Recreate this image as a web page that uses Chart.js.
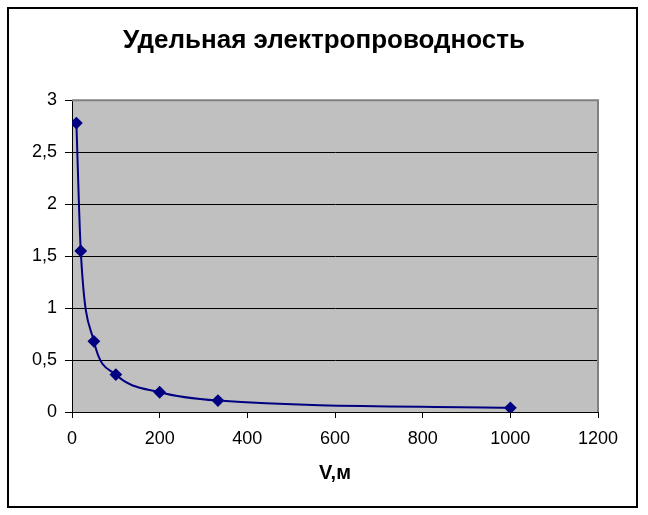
<!DOCTYPE html>
<html>
<head>
<meta charset="utf-8">
<script src="https://cdn.jsdelivr.net/npm/chart.js@4"></script>
<style>
  body { margin: 0; background: #fff; }
  canvas { display: block; }
</style>
</head>
<body>
<canvas id="chart" width="648" height="515"></canvas>
<script>
const chartTitle = 'Удельная электропроводность';
const xAxisTitle = 'V,м';
const xValues = [10, 20, 50, 100, 200, 333, 1000];
const yValues = [2.78, 1.55, 0.68, 0.36, 0.19, 0.11, 0.04];

const points = xValues.map((x, i) => ({ x: x, y: yValues[i] }));

// grey plot area, outer frame and grey top/right edge like Excel
const frame = {
    id: 'frame',
    beforeDraw(chart) {
        const { ctx, chartArea: a } = chart;
        ctx.save();
        ctx.fillStyle = '#c0c0c0';
        ctx.fillRect(a.left, a.top, a.right - a.left, a.bottom - a.top);
        ctx.restore();
    },
    afterDraw(chart) {
        const { ctx, chartArea: a } = chart;
        ctx.save();
        ctx.strokeStyle = '#808080';
        ctx.lineWidth = 2;
        ctx.beginPath();
        ctx.moveTo(a.left, a.top);
        ctx.lineTo(a.right, a.top);
        ctx.lineTo(a.right, a.bottom);
        ctx.stroke();
        ctx.strokeStyle = '#000';
        ctx.lineWidth = 2;
        ctx.strokeRect(8, 8, 629, 499);
        ctx.restore();
    }
};

const font = 'Arial, "Liberation Sans"';

const ctx = document.getElementById('chart').getContext('2d');
new Chart(ctx, {
    type: 'scatter',
    data: {
        datasets: [{
            data: points,
            showLine: true,
            borderColor: '#000080',
            backgroundColor: '#000080',
            borderWidth: 2,
            cubicInterpolationMode: 'monotone',
            pointStyle: 'rectRot',
            pointRadius: 5,
            pointHoverRadius: 5,
        }]
    },
    options: {
        responsive: false,
        animation: false,
        layout: { padding: 0 },
        plugins: {
            legend: { display: false },
            tooltip: { enabled: false },
            title: {
                display: true,
                text: chartTitle,
                color: '#000',
                font: { family: font, size: 26, weight: 'bold' },
                padding: { top: 25, bottom: 44 },
            },
        },
        scales: {
            x: {
                type: 'linear',
                min: 0,
                max: 1200,
                afterFit: (scale) => { scale.height = 103; },
                ticks: {
                    stepSize: 200,
                    color: '#000',
                    padding: 10,
                    maxRotation: 0,
                    font: { family: font, size: 18 },
                    callback: (v) => String(v),
                },
                grid: {
                    drawOnChartArea: false,
                    drawTicks: true,
                    tickLength: 6,
                    color: '#000',
                },
                border: { color: '#000', width: 1 },
                title: {
                    display: true,
                    text: xAxisTitle,
                    color: '#000',
                    font: { family: font, size: 20, weight: 'bold' },
                    padding: { top: 0, bottom: 30 },
                },
            },
            y: {
                type: 'linear',
                min: 0,
                max: 3,
                afterFit: (scale) => { scale.width = 72; },
                ticks: {
                    stepSize: 0.5,
                    color: '#000',
                    padding: 8,
                    font: { family: font, size: 18 },
                    callback: (v) => String(v).replace('.', ','),
                },
                grid: {
                    color: '#000',
                    lineWidth: 1,
                    drawTicks: true,
                    tickLength: 7,
                },
                border: { color: '#000', width: 1 },
            },
            // empty right axis, only keeps the blank margin right of the plot
            spacer: {
                type: 'linear',
                position: 'right',
                afterFit: (scale) => { scale.width = 50; },
                ticks: { display: false },
                grid: { display: false },
                border: { display: false },
            },
        },
    },
    plugins: [frame],
});
</script>
</body>
</html>
